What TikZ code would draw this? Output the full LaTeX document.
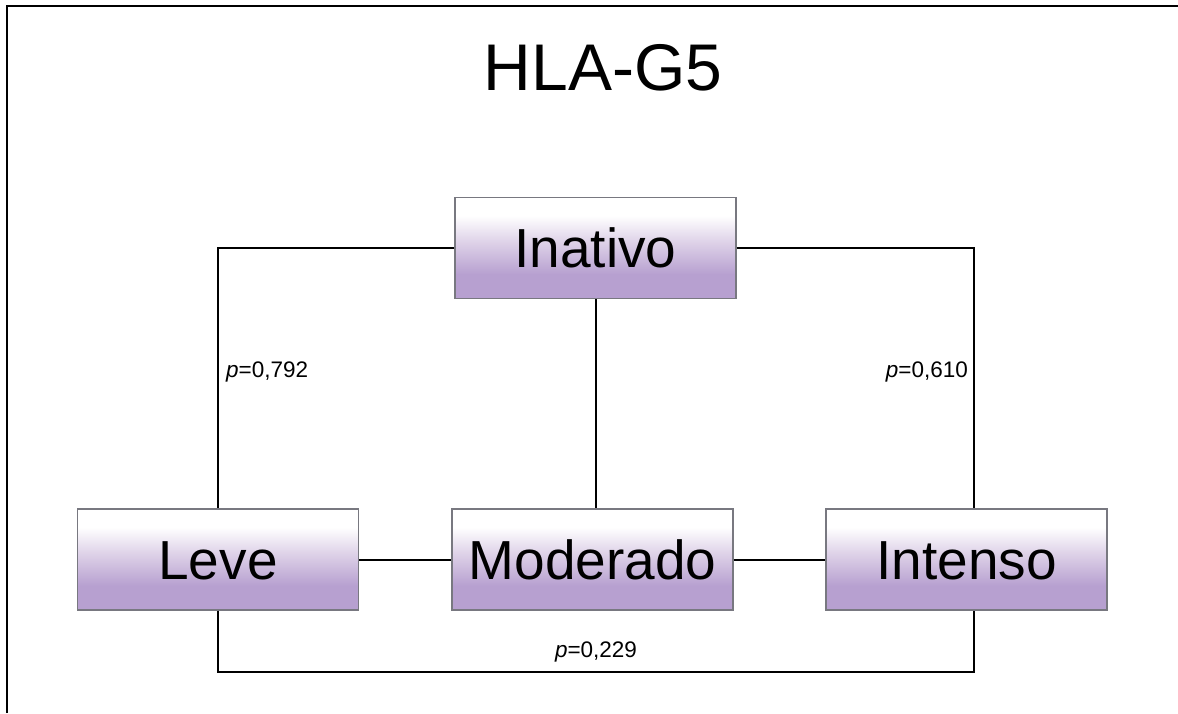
\documentclass[tikz,border=0pt]{standalone}
\usepackage{fontspec}
\setmainfont{Liberation Sans}
\usetikzlibrary{calc}
\definecolor{boxpurple}{RGB}{183,160,208}
\definecolor{boxmid}{RGB}{222,210,232}
\definecolor{boxedge}{RGB}{120,120,128}
\pgfdeclareverticalshading{boxshade}{100bp}{%
  color(0bp)=(boxpurple); color(25bp)=(boxpurple); color(37bp)=(boxpurple);
  color(53bp)=(boxmid); color(66bp)=(white); color(75bp)=(white); color(100bp)=(white)}
\tikzset{
  stage/.style={draw=boxedge, line width=1.2pt, shading=boxshade,
    minimum width=281pt, minimum height=101pt, inner sep=0pt,
    text height=39.4pt, text depth=0pt,
    font=\fontsize{55}{60}\selectfont},
  link/.style={draw=black, line width=2pt},
  pval/.style={font=\fontsize{22.5}{26}\selectfont, inner sep=0pt},
  frame/.style={draw=black, line width=2.4pt}
}
\begin{document}
\begin{tikzpicture}[x=1pt, y=-1pt]
  \useasboundingbox (0,0) rectangle (1178,713);
  % open frame: top and left edges only
  \coordinate (fl) at (7,713);
  \coordinate (fc) at (7,6);
  \coordinate (fr) at (1178,6);
  \draw[frame] (fl) -- (fc) -- (fr);

  \node[font=\fontsize{66}{70}\selectfont, anchor=base] (title) at (603,90) {HLA-G5};

  \node[stage] (ina) at (595.5,248) {Inativo};
  \node[stage] (lev) at (218,559.5) {Leve};
  \node[stage] (mod) at (592.5,559.5) {Moderado};
  \node[stage] (int) at (966.5,559.5) {Intenso};

  \coordinate (ir) at ([xshift=7.5pt]int.north);
  \coordinate (irb) at ([xshift=7.5pt]int.south);
  \coordinate (low) at (0,672);

  \draw[link] (ina.west) -| (lev.north);
  \draw[link] (ina.east) -| (ir);
  \draw[link] (ina.south) -- (ina.south |- mod.north);
  \draw[link] (lev.east) -- (mod.west);
  \draw[link] (mod.east) -- (int.west);
  \draw[link] (lev.south) -- (lev.south |- low) -| (irb);

  \node[pval, anchor=base west] (p1) at (226,377) {\textit{p}=0,792};
  \node[pval, anchor=base east] (p2) at (968,377) {\textit{p}=0,610};
  \node[pval, anchor=base] (p3) at (596,657) {\textit{p}=0,229};
\end{tikzpicture}
\end{document}
